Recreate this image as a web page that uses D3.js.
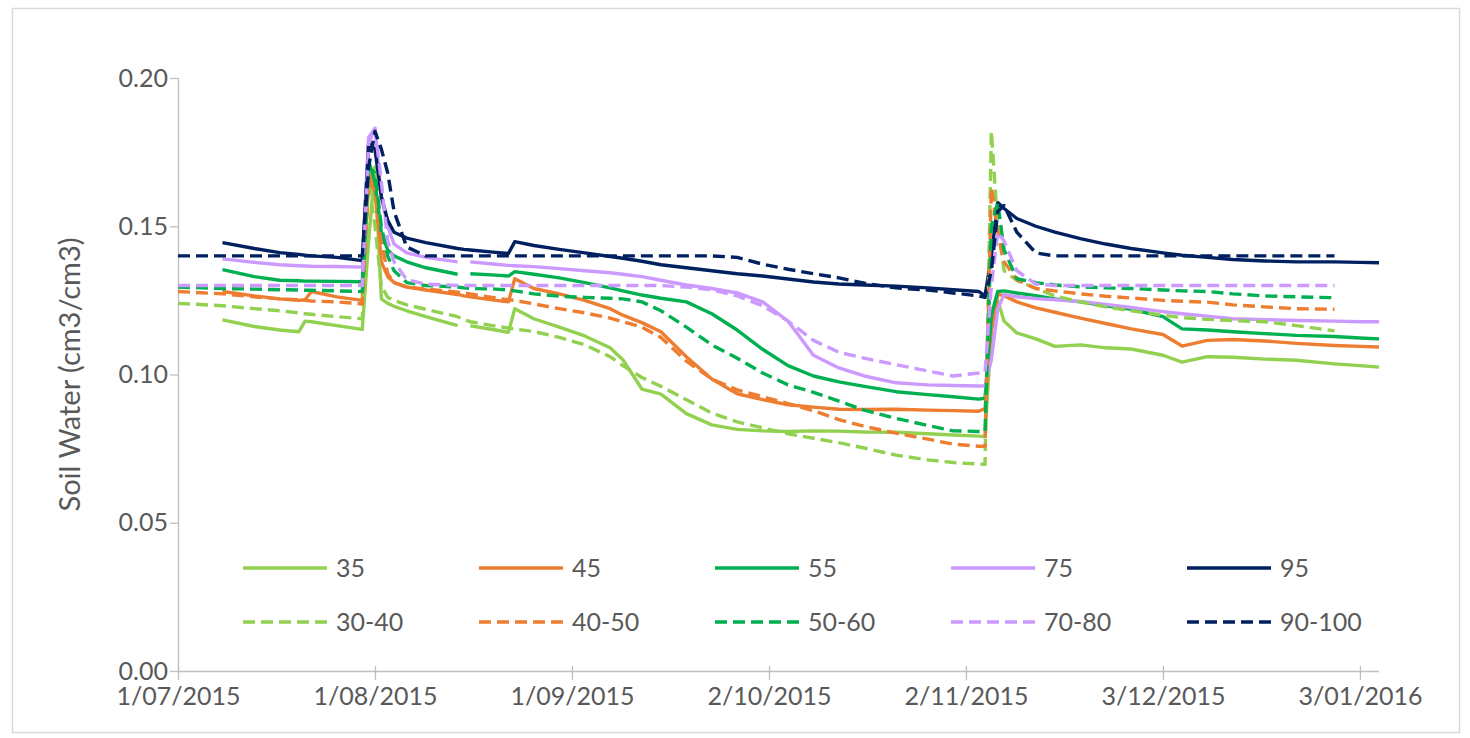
<!DOCTYPE html>
<html>
<head>
<meta charset="utf-8">
<script src="https://cdn.jsdelivr.net/npm/d3@7"></script>
<style>
  html, body { margin: 0; padding: 0; background: #ffffff; }
  svg { display: block; }
  text { font-family: "Lato", "Open Sans", sans-serif; fill: #595959; }
</style>
</head>
<body>
<svg id="chart" width="1470" height="738"></svg>
<script>
// ---------------- DATA ----------------
const dates = [
  "2015-07-01","2015-07-08","2015-07-13","2015-07-17","2015-07-20","2015-07-21","2015-07-22","2015-07-26",
  "2015-07-30","2015-07-31","2015-08-01","2015-08-02","2015-08-03","2015-08-04","2015-08-06","2015-08-09",
  "2015-08-14","2015-08-15","2015-08-16","2015-08-20","2015-08-22","2015-08-23","2015-08-26","2015-08-30",
  "2015-09-03","2015-09-07","2015-09-09","2015-09-12","2015-09-15","2015-09-19","2015-09-23","2015-09-27",
  "2015-10-01","2015-10-05","2015-10-09","2015-10-13","2015-10-17","2015-10-22","2015-10-27","2015-10-31",
  "2015-11-04","2015-11-05","2015-11-06","2015-11-07","2015-11-08","2015-11-10","2015-11-13","2015-11-16",
  "2015-11-20","2015-11-24","2015-11-28","2015-12-03","2015-12-06","2015-12-10","2015-12-14","2015-12-19",
  "2015-12-24","2015-12-30","2016-01-03","2016-01-06"
];

const s35 = [
  null,0.1184,0.1162,0.1150,0.1144,0.1180,0.1178,0.1165,
  0.1152,0.1450,0.1700,0.1255,0.1240,0.1230,0.1215,0.1195,
  0.1165,null,0.1164,0.1150,0.1142,0.1222,0.1188,0.1160,
  0.1130,0.1090,0.1050,0.0951,0.0934,0.0868,0.0830,0.0815,
  0.0810,0.0808,0.0810,0.0809,0.0806,0.0805,0.0800,0.0796,
  0.0792,0.0790,0.1150,0.1250,0.1180,0.1140,0.1120,0.1095,
  0.1100,0.1090,0.1086,0.1065,0.1042,0.1060,0.1058,0.1052,
  0.1048,0.1036,0.1030,0.1025
];
const s45 = [
  null,0.1280,0.1265,0.1255,0.1250,0.1252,0.1280,0.1262,
  0.1250,0.1680,0.1620,0.1380,0.1330,0.1310,0.1295,0.1285,
  0.1270,0.1265,0.1262,0.1250,0.1245,0.1323,0.1290,0.1272,
  0.1250,0.1222,0.1200,0.1175,0.1144,0.1060,0.0985,0.0935,
  0.0915,0.0898,0.0890,0.0883,0.0882,0.0883,0.0880,0.0878,
  0.0876,0.0885,0.1150,0.1270,0.1266,0.1245,0.1225,0.1210,
  0.1190,0.1172,0.1154,0.1135,0.1096,0.1115,0.1118,0.1113,
  0.1105,0.1098,0.1095,0.1093
];
const s55 = [
  null,0.1354,0.1330,0.1318,0.1316,0.1315,0.1315,0.1314,
  0.1313,0.1720,0.1650,0.1480,0.1420,0.1400,0.1380,0.1360,
  0.1338,null,0.1340,0.1335,0.1332,0.1347,0.1338,0.1326,
  0.1310,0.1292,0.1282,0.1268,0.1257,0.1245,0.1205,0.1150,
  0.1085,0.1030,0.0995,0.0975,0.0960,0.0942,0.0932,0.0925,
  0.0917,0.0920,0.1200,0.1280,0.1282,0.1275,0.1266,0.1255,
  0.1245,0.1232,0.1220,0.1195,0.1154,0.1150,0.1144,0.1138,
  0.1132,0.1128,0.1123,0.1120
];
const s75 = [
  null,0.1390,0.1378,0.1370,0.1367,0.1366,0.1365,0.1364,
  0.1362,0.1800,0.1830,0.1600,0.1500,0.1440,0.1410,0.1395,
  0.1380,null,0.1380,0.1372,0.1368,0.1367,0.1364,0.1357,
  0.1350,0.1343,0.1338,0.1330,0.1318,0.1302,0.1290,0.1275,
  0.1245,0.1180,0.1065,0.1022,0.0995,0.0972,0.0965,0.0963,
  0.0961,0.0962,0.1050,0.1220,0.1270,0.1262,0.1256,0.1252,
  0.1246,0.1236,0.1226,0.1212,0.1205,0.1197,0.1188,0.1185,
  0.1182,0.1180,0.1178,0.1178
];
const s95 = [
  null,0.1445,0.1425,0.1411,0.1405,0.1402,0.1400,0.1395,
  0.1384,0.1780,0.1760,0.1600,0.1520,0.1480,0.1460,0.1445,
  0.1425,0.1422,0.1420,0.1412,0.1408,0.1448,0.1435,0.1422,
  0.1410,0.1398,0.1392,0.1382,0.1370,0.1360,0.1350,0.1340,
  0.1332,0.1322,0.1312,0.1305,0.1302,0.1298,0.1292,0.1286,
  0.1280,0.1265,0.1400,0.1580,0.1560,0.1526,0.1500,0.1480,
  0.1458,0.1440,0.1425,0.1410,0.1402,0.1395,0.1388,0.1383,
  0.1380,0.1380,0.1378,0.1377
];
const s30_40 = [
  0.1240,0.1232,0.1222,0.1215,0.1208,0.1205,0.1203,0.1195,
  0.1188,0.1650,0.1500,0.1300,0.1260,0.1250,0.1235,0.1220,
  0.1195,0.1185,0.1178,0.1163,0.1157,0.1153,0.1145,0.1125,
  0.1100,0.1060,0.1030,0.0990,0.0960,0.0915,0.0870,0.0840,
  0.0820,0.0800,0.0785,0.0770,0.0752,0.0728,0.0712,0.0703,
  0.0698,0.0697,0.1820,0.1500,0.1350,0.1317,0.1290,0.1265,
  0.1245,0.1228,0.1215,0.1200,0.1192,0.1186,0.1182,0.1178,
  0.1165,0.1147,null,null
];
const s40_50 = [
  0.1280,0.1272,0.1262,0.1255,0.1252,0.1250,0.1248,0.1245,
  0.1238,0.1650,0.1620,0.1450,0.1340,0.1310,0.1295,0.1288,
  0.1278,0.1275,0.1272,0.1258,0.1252,0.1250,0.1238,0.1222,
  0.1208,0.1190,0.1178,0.1160,0.1125,0.1045,0.0985,0.0948,
  0.0925,0.0902,0.0878,0.0848,0.0825,0.0802,0.0782,0.0765,
  0.0758,0.0758,0.1630,0.1480,0.1380,0.1320,0.1290,0.1282,
  0.1272,0.1264,0.1258,0.1250,0.1247,0.1244,0.1235,0.1228,
  0.1222,0.1220,null,null
];
const s50_60 = [
  0.1295,0.1290,0.1288,0.1286,0.1285,0.1284,0.1284,0.1282,
  0.1280,0.1700,0.1680,0.1500,0.1400,0.1350,0.1310,0.1300,
  0.1295,0.1292,0.1290,0.1288,0.1285,0.1282,0.1272,0.1264,
  0.1260,0.1257,0.1255,0.1245,0.1215,0.1160,0.1100,0.1055,
  0.1005,0.0965,0.0940,0.0910,0.0880,0.0852,0.0828,0.0810,
  0.0808,0.0808,0.1500,0.1580,0.1420,0.1323,0.1310,0.1302,
  0.1296,0.1292,0.1290,0.1285,0.1282,0.1280,0.1272,0.1265,
  0.1262,0.1259,null,null
];
const s70_80 = [
  0.1300,0.1300,0.1300,0.1300,0.1300,0.1300,0.1300,0.1300,
  0.1300,0.1780,0.1830,0.1650,0.1450,0.1380,0.1320,0.1305,
  0.1300,0.1300,0.1300,0.1300,0.1300,0.1300,0.1300,0.1300,
  0.1300,0.1300,0.1300,0.1300,0.1300,0.1295,0.1286,0.1265,
  0.1232,0.1180,0.1115,0.1075,0.1055,0.1033,0.1012,0.0995,
  0.1005,0.1008,0.1300,0.1480,0.1450,0.1350,0.1305,0.1300,
  0.1300,0.1300,0.1300,0.1300,0.1300,0.1300,0.1300,0.1300,
  0.1300,0.1300,null,null
];
const s90_100 = [
  0.1400,0.1400,0.1400,0.1400,0.1400,0.1400,0.1400,0.1400,
  0.1400,0.1700,0.1820,0.1760,0.1680,0.1550,0.1430,0.1400,
  0.1400,0.1400,0.1400,0.1400,0.1400,0.1400,0.1400,0.1400,
  0.1400,0.1400,0.1400,0.1400,0.1400,0.1400,0.1400,0.1395,
  0.1372,0.1355,0.1340,0.1326,0.1308,0.1292,0.1285,0.1275,
  0.1265,0.1260,0.1350,0.1550,0.1570,0.1480,0.1410,0.1400,
  0.1400,0.1400,0.1400,0.1400,0.1400,0.1400,0.1400,0.1400,
  0.1400,0.1400,null,null
];

const seriesNames = ["35","45","55","75","95","30-40","40-50","50-60","70-80","90-100"];
const seriesValues = [s35, s45, s55, s75, s95, s30_40, s40_50, s50_60, s70_80, s90_100];

const xTickDates = ["2015-07-01","2015-08-01","2015-09-01","2015-10-02","2015-11-02","2015-12-03","2016-01-03"];
const yTickValues = [0, 0.05, 0.10, 0.15, 0.20];
const xDomain = ["2015-07-01","2016-01-06"];
const yDomain = [0, 0.20];
const yTitle = "Soil Water (cm3/cm3)";

// ---------------- STYLE ----------------
const colors = ["#92d050","#ed7d31","#00b050","#cc99ff","#002060",
                "#92d050","#ed7d31","#00b050","#cc99ff","#002060"];
const dashed = [false,false,false,false,false,true,true,true,true,true];
const DASH = "12,6";
const LW = 3.4;
const FONT = 25;
const TITLE_FONT = 29;

// ---------------- LAYOUT ----------------
const parse = d3.timeParse("%Y-%m-%d");
const fmt = d3.timeFormat("%-d/%m/%Y");
const svg = d3.select("#chart");

svg.append("rect").attr("x", 12.5).attr("y", 8.5).attr("width", 1447).attr("height", 724)
  .attr("fill", "#ffffff").attr("stroke", "#d9d9d9").attr("stroke-width", 1.5);

const plot = {left: 178, right: 1379, top: 78, bottom: 671};
const x = d3.scaleTime().domain(xDomain.map(parse)).range([plot.left, plot.right]);
const y = d3.scaleLinear().domain(yDomain).range([plot.bottom, plot.top]);

const axisColor = "#bfbfbf";

// Y axis
const yAxis = svg.append("g").attr("transform", `translate(${plot.left},0)`)
  .call(d3.axisLeft(y).tickValues(yTickValues).tickFormat(d3.format(".2f")).tickSize(8).tickPadding(8));
yAxis.select(".domain").attr("stroke", axisColor).attr("stroke-width", 1.3)
  .attr("d", `M0.5,${plot.top}V${plot.bottom}`);
yAxis.selectAll(".tick line").attr("stroke", axisColor).attr("stroke-width", 1.3).attr("x2", -8);
yAxis.selectAll(".tick text").attr("font-size", FONT).style("fill", "#595959")
  .attr("font-family", "Lato, 'Open Sans', sans-serif").attr("x", -10);

// X axis
const xAxis = svg.append("g").attr("transform", `translate(0,${plot.bottom})`)
  .call(d3.axisBottom(x).tickValues(xTickDates.map(parse)).tickFormat(fmt).tickSize(8).tickPadding(6));
xAxis.select(".domain").attr("stroke", axisColor).attr("stroke-width", 1.3)
  .attr("d", `M${plot.left},0.5H${plot.right}`);
xAxis.selectAll(".tick line").attr("stroke", axisColor).attr("stroke-width", 1.3).attr("y1", -5).attr("y2", 9);
xAxis.selectAll(".tick text").attr("font-size", FONT).style("fill", "#595959")
  .attr("font-family", "Lato, 'Open Sans', sans-serif").attr("y", 16);

// Y title
svg.append("text")
  .attr("transform", `translate(80,${(plot.top + plot.bottom) / 2}) rotate(-90)`)
  .attr("text-anchor", "middle")
  .attr("font-size", TITLE_FONT)
  .text(yTitle);

// Lines
const parsedDates = dates.map(parse);
const line = d3.line()
  .defined(d => d.v !== null)
  .x(d => x(d.date))
  .y(d => y(d.v));

const g = svg.append("g").attr("fill", "none");
seriesValues.forEach((vals, i) => {
  const data = vals.map((v, k) => ({date: parsedDates[k], v: v}));
  g.append("path")
    .datum(data)
    .attr("d", line)
    .attr("stroke", colors[i])
    .attr("stroke-width", LW)
    .attr("stroke-linejoin", "round")
    .attr("stroke-dasharray", dashed[i] ? DASH : null);
});

// Legend
const legend = svg.append("g");
const legX0 = 243, legDX = 236, legY0 = 568, legDY = 54, legLen = 84;
seriesNames.forEach((name, i) => {
  const col = i % 5, row = Math.floor(i / 5);
  const lx = legX0 + col * legDX, ly = legY0 + row * legDY;
  legend.append("line")
    .attr("x1", lx).attr("x2", lx + legLen).attr("y1", ly).attr("y2", ly)
    .attr("stroke", colors[i]).attr("stroke-width", LW)
    .attr("stroke-dasharray", dashed[i] ? DASH : null);
  legend.append("text")
    .attr("x", lx + legLen + 9).attr("y", ly)
    .attr("dy", "0.35em")
    .attr("font-size", FONT)
    .text(name);
});
</script>
</body>
</html>
